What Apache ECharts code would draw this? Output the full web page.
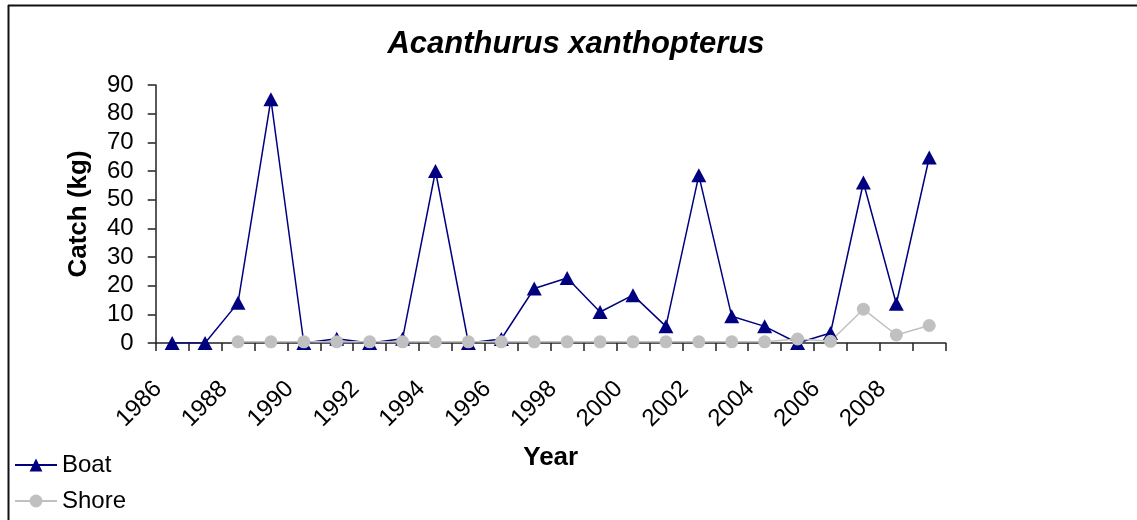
<!DOCTYPE html>
<html>
<head>
<meta charset="utf-8">
<script src="https://cdn.jsdelivr.net/npm/echarts@6/dist/echarts.min.js"></script>
<style>
html,body{margin:0;padding:0;background:#fff;}
#chart{width:1137px;height:520px;}
</style>
</head>
<body>
<div id="chart"></div>
<script>
var years = ['1986','1987','1988','1989','1990','1991','1992','1993','1994','1995','1996','1997',
             '1998','1999','2000','2001','2002','2003','2004','2005','2006','2007','2008','2009'];
var boat  = [0, 0, 14, 85, 0, 1.5, 0, 1.5, 60, 0, 1.4, 19, 22.7, 10.8, 16.7, 5.8, 58.5, 9.3, 5.8, 0, 3.5, 56, 13.7, 64.7];
var shore = [null, null, 0.4, 0.4, 0.4, 0.4, 0.4, 0.4, 0.4, 0.4, 0.4, 0.4, 0.4, 0.4, 0.4, 0.4, 0.4, 0.4, 0.4, 1.4, 0.6, 11.8, 2.8, 6.1];
var yTicks = {min: 0, max: 90, interval: 10};
var titleText = 'Acanthurus xanthopterus';

var FONT = '"Liberation Sans", Arial, sans-serif';
var legendBase = {
  orient: 'vertical', left: 14, padding: 0,
  itemWidth: 42, itemHeight: 16,
  textStyle: {fontFamily: FONT, fontSize: 24, lineHeight: 24, color: '#000'}
};
var chart = echarts.init(document.getElementById('chart'), null, {renderer: 'canvas'});
chart.setOption({
  backgroundColor: '#ffffff',
  animation: false,
  title: {
    text: titleText,
    left: 576, top: 29, padding: 0,
    textAlign: 'center',
    textStyle: {fontFamily: FONT, fontSize: 31, fontWeight: 'bold', fontStyle: 'italic', color: '#000'}
  },
  legend: [
    Object.assign({}, legendBase, {top: 453, data: ['Boat']}),
    Object.assign({}, legendBase, {top: 489, data: ['Shore']})
  ],
  grid: {left: 155.7, right: 191.3, top: 85, bottom: 177, containLabel: false},
  xAxis: {
    type: 'category',
    data: years,
    boundaryGap: true,
    name: 'Year', nameLocation: 'middle', nameGap: 102,
    nameTextStyle: {fontFamily: FONT, fontSize: 26, fontWeight: 'bold', color: '#000'},
    axisLine: {lineStyle: {color: '#222', width: 1.5}},
    axisTick: {show: true, interval: 0, length: 8, inside: false, lineStyle: {color: '#222', width: 1.5}},
    axisLabel: {interval: 1, rotate: 45, margin: 28, padding: [0, 20, 0, 0],
      fontFamily: FONT, fontSize: 24, color: '#000'},
    splitLine: {show: false}
  },
  yAxis: {
    type: 'value',
    min: yTicks.min, max: yTicks.max, interval: yTicks.interval,
    name: 'Catch (kg)', nameLocation: 'middle', nameGap: 64, nameRotate: 90,
    nameTextStyle: {fontFamily: FONT, fontSize: 26, fontWeight: 'bold', color: '#000'},
    axisLine: {show: true, lineStyle: {color: '#222', width: 1.5}},
    axisTick: {show: true, length: 8, lineStyle: {color: '#222', width: 1.5}},
    axisLabel: {margin: 22, fontFamily: FONT, fontSize: 24, color: '#000'},
    splitLine: {show: false}
  },
  graphic: [
    {type: 'line', shape: {x1: 8.5, y1: 5, x2: 8.5, y2: 520}, style: {stroke: '#111', lineWidth: 2}, silent: true},
    {type: 'line', shape: {x1: 8, y1: 5.5, x2: 1137, y2: 5.5}, style: {stroke: '#111', lineWidth: 2}, silent: true}
  ],
  series: [
    {
      name: 'Boat', type: 'line', data: boat,
      symbol: 'triangle', symbolSize: [15, 14], showAllSymbol: true,
      lineStyle: {color: '#000080', width: 1.5},
      itemStyle: {color: '#000080'}
    },
    {
      name: 'Shore', type: 'line', data: shore,
      symbol: 'circle', symbolSize: 13, showAllSymbol: true,
      lineStyle: {color: '#C0C0C0', width: 1.5},
      itemStyle: {color: '#C0C0C0'}
    }
  ]
});
</script>
</body>
</html>
